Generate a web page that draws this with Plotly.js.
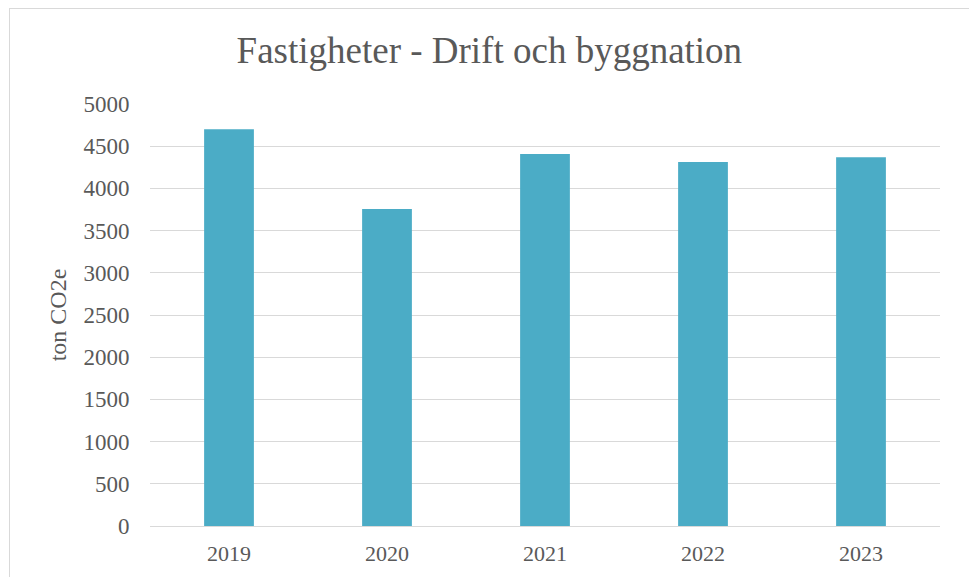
<!DOCTYPE html>
<html>
<head>
<meta charset="utf-8">
<script src="https://cdn.plot.ly/plotly-3.0.1.min.js"></script>
<style>
html,body{margin:0;padding:0;background:#fff;}
#wrap{position:relative;width:969px;height:577px;}
#chart{width:969px;height:577px;}
#frame{position:absolute;left:9px;top:8px;width:980px;height:600px;border:1px solid #D9D9D9;pointer-events:none;box-sizing:border-box;}
</style>
</head>
<body>
<div id="wrap"><div id="chart"></div><div id="frame"></div></div>
<script>
const years = ['2019', '2020', '2021', '2022', '2023'];
const emissions = [4700, 3755, 4408, 4313, 4370];
const yTicks = [0, 500, 1000, 1500, 2000, 2500, 3000, 3500, 4000, 4500, 5000];

const font = '"Liberation Serif", "Times New Roman", "DejaVu Serif", serif';
const txt = '#595959';

Plotly.newPlot('chart', [{
  type: 'bar',
  x: years,
  y: emissions,
  marker: {color: '#4BACC6'},
  hoverinfo: 'x+y'
}], {
  width: 969, height: 577,
  margin: {l: 150, r: 29, t: 104, b: 51},
  paper_bgcolor: 'rgba(0,0,0,0)',
  plot_bgcolor: '#fff',
  bargap: 0.685,
  title: {text: 'Fastigheter - Drift och byggnation', font: {family: font, size: 37, color: txt}, x: 0.505, xanchor: 'center', y: 0.913, yanchor: 'middle'},
  xaxis: {type: 'category', tickfont: {family: font, size: 22, color: txt}, showgrid: false, showline: false, ticks: 'outside', ticklen: 8, tickcolor: 'rgba(0,0,0,0)', zeroline: false},
  yaxis: {range: [0, 5000], tickvals: yTicks, tickfont: {family: font, size: 23, color: txt}, gridcolor: '#D9D9D9', gridwidth: 1.3, zeroline: true, zerolinecolor: '#D9D9D9', zerolinewidth: 1.3, showline: false, ticks: 'outside', ticklen: 15, tickcolor: 'rgba(0,0,0,0)', automargin: false,
    title: {text: 'ton CO2e', font: {family: font, size: 24, color: txt}, standoff: 10}},
  showlegend: false
}, {displayModeBar: false});
</script>
</body>
</html>
